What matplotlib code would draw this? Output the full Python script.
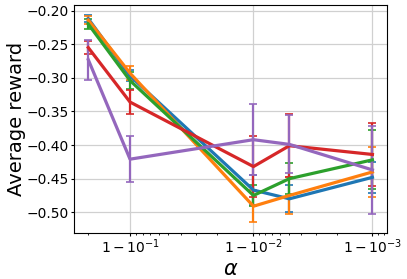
import matplotlib
matplotlib.use('Agg')
import matplotlib.pyplot as plt
import numpy as np

alphas = np.array([0.8, 0.9, 0.99, 0.995, 0.999])

# mean reward and error per run
blue = np.array([-0.212, -0.297, -0.467, -0.480, -0.448])
blue_err = np.array([0.005, 0.008, 0.022, 0.020, 0.023])
orange = np.array([-0.214, -0.293, -0.491, -0.475, -0.440])
orange_err = np.array([0.006, 0.010, 0.024, 0.027, 0.037])
green = np.array([-0.220, -0.304, -0.475, -0.450, -0.422])
green_err = np.array([0.008, 0.012, 0.015, 0.023, 0.044])
red = np.array([-0.255, -0.336, -0.432, -0.401, -0.414])
red_err = np.array([0.010, 0.018, 0.045, 0.047, 0.047])
purple = np.array([-0.273, -0.421, -0.392, -0.399, -0.437])
purple_err = np.array([0.030, 0.034, 0.053, 0.043, 0.065])

series = [
    (blue, blue_err, 'tab:blue'),
    (orange, orange_err, 'tab:orange'),
    (green, green_err, 'tab:green'),
    (red, red_err, 'tab:red'),
    (purple, purple_err, 'tab:purple'),
]


def main():
    fig = plt.figure(figsize=(4.07, 2.79), dpi=100)
    ax = fig.add_axes([0.182, 0.166, 0.768, 0.816])

    for y, err, c in series:
        ax.errorbar(alphas, y, yerr=err, color=c, lw=2.3,
                    elinewidth=1.6, capsize=3, capthick=1.2)

    ax.set_xscale('logit')
    ax.grid(True, color='#d0d0d0', lw=0.9)
    ax.set_axisbelow(True)
    ax.set_yticks([-0.50, -0.45, -0.40, -0.35, -0.30, -0.25, -0.20])
    ax.tick_params(which='major', labelsize=10, length=2.3, pad=1.2)
    ax.tick_params(which='minor', length=1.5)
    ax.set_xlabel(r'$\alpha$', fontsize=15, labelpad=2)
    ax.set_ylabel('Average reward', fontsize=14)
    ax.yaxis.set_label_coords(-0.154, 0.5)
    fig.savefig('out.png', dpi=100)


if __name__ == '__main__':
    main()
